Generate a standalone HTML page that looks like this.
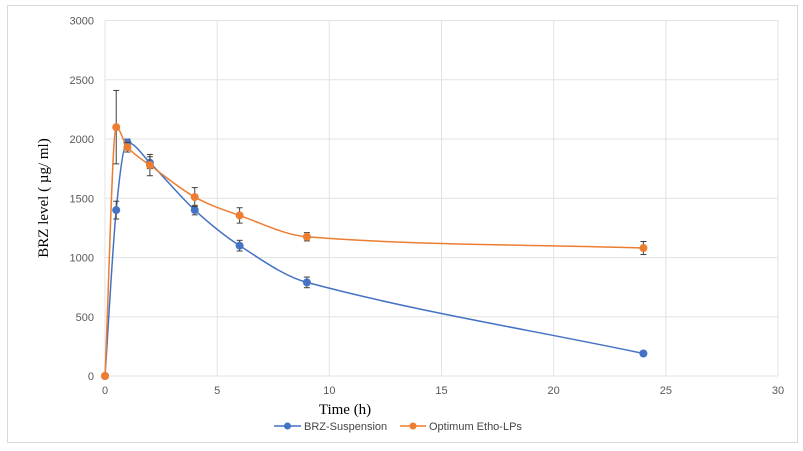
<!DOCTYPE html>
<html><head><meta charset="utf-8"><style>
html,body{margin:0;padding:0;background:#fff;width:803px;height:451px;overflow:hidden}
svg{display:block}
</style></head><body>
<svg id="chart" width="803" height="451" xmlns="http://www.w3.org/2000/svg">
<rect x="7.5" y="5.5" width="790" height="437" fill="#fff" stroke="#d9d9d9"/>
<g id="grid"></g><g id="ticks"></g><g id="series"></g>
<text x="48" y="198" transform="rotate(-90 48 198)" text-anchor="middle" font-family="Liberation Serif, serif" font-size="15" fill="#000">BRZ level ( µg/ ml)</text>
<text x="345" y="414" text-anchor="middle" font-family="Liberation Serif, serif" font-size="15" fill="#000">Time (h)</text>
<g font-family="Liberation Sans, sans-serif" font-size="11" fill="#444">
<g><line x1="274" y1="426" x2="301" y2="426" stroke="#4472c4" stroke-width="1.5"/><circle cx="287.5" cy="426" r="3.5" fill="#4472c4"/><text x="304" y="430">BRZ-Suspension</text></g>
<g><line x1="400" y1="426" x2="426" y2="426" stroke="#ed7d31" stroke-width="1.5"/><circle cx="413" cy="426" r="3.5" fill="#ed7d31"/><text x="429" y="430">Optimum Etho-LPs</text></g>
</g>
</svg>
<script>
const times=[0,0.5,1,2,4,6,9,24];
const brzValues=[0,1400,1970,1800,1400,1100,790,190];
const brzErrors=[0,75,30,50,40,45,45,20];
const ethoValues=[0,2100,1930,1780,1510,1355,1175,1080];
const ethoErrors=[0,310,40,90,80,65,35,55];
const xTicks=[0,5,10,15,20,25,30];
const yTicks=[0,500,1000,1500,2000,2500,3000];

const NS='http://www.w3.org/2000/svg';
const X0=105,X1=778,Y0=376,Y1=20.5;
const xs=v=>X0+(v/30)*(X1-X0);
const ys=v=>Y0-(v/3000)*(Y0-Y1);
function mk(tag,attrs,parent){const e=document.createElementNS(NS,tag);for(const k in attrs)e.setAttribute(k,attrs[k]);parent.appendChild(e);return e;}
const grid=document.getElementById('grid'),ticks=document.getElementById('ticks'),ser=document.getElementById('series');
yTicks.forEach(t=>{
 const l=mk('line',{x1:X0,x2:X1,y1:ys(t),y2:ys(t),stroke:'#e3e3e3','stroke-width':1},grid);
 
 
 const tx=mk('text',{x:X0-11,y:ys(t)+4,'text-anchor':'end','font-family':'Liberation Sans, sans-serif','font-size':11,fill:'#595959'},ticks);
 tx.textContent=t;
 
 
});
xTicks.forEach(t=>{
 const l=mk('line',{x1:xs(t),x2:xs(t),y1:Y0,y2:Y1,stroke:'#e3e3e3','stroke-width':1},grid);
 
 
 const tx=mk('text',{x:xs(t),y:Y0+18,'text-anchor':'middle','font-family':'Liberation Sans, sans-serif','font-size':11,fill:'#595959'},ticks);
 tx.textContent=t;
 
 
});
function path(vals){
 const p=times.map((t,i)=>[xs(t),ys(vals[i])]);
 const n=p.length;
 const m=p.map((q,i)=>{
  if(i===0||i===n-1){const a=p[Math.max(i-1,0)],b=p[Math.min(i+1,n-1)];return (b[1]-a[1])/(b[0]-a[0]);}
  const d0=(p[i][1]-p[i-1][1])/(p[i][0]-p[i-1][0]);
  const d1=(p[i+1][1]-p[i][1])/(p[i+1][0]-p[i][0]);
  if(d0*d1<=0) return 0;
  return (p[i+1][1]-p[i-1][1])/(p[i+1][0]-p[i-1][0]);
 });
 let d='M'+p[0][0]+','+p[0][1];
 for(let i=0;i<n-1;i++){
  const h=(p[i+1][0]-p[i][0])/3;
  d+=' C'+(p[i][0]+h)+','+(p[i][1]+m[i]*h)+' '+(p[i+1][0]-h)+','+(p[i+1][1]-m[i+1]*h)+' '+p[i+1][0]+','+p[i+1][1];
 }
 return d;
}
function drawSeries(vals,errs,color,name){
 const g=mk('g',{},ser);
 
 
 const pl=mk('path',{d:path(vals),fill:'none',stroke:color,'stroke-width':1.5},g);
 
 
 times.forEach((t,i)=>{
  const x=xs(t);
  if(errs[i]>0){
   const eg=mk('g',{stroke:'#404040','stroke-width':1},g);
   mk('line',{x1:x,x2:x,y1:ys(vals[i]-errs[i]),y2:ys(vals[i]+errs[i])},eg);
   mk('line',{x1:x-3,x2:x+3,y1:ys(vals[i]-errs[i]),y2:ys(vals[i]-errs[i])},eg);
   mk('line',{x1:x-3,x2:x+3,y1:ys(vals[i]+errs[i]),y2:ys(vals[i]+errs[i])},eg);
   
   
  }
  const c=mk('circle',{cx:x,cy:ys(vals[i]),r:4,fill:color},g);
  
  
 });
}
drawSeries(brzValues,brzErrors,'#4472c4','brz');
drawSeries(ethoValues,ethoErrors,'#ed7d31','etho');
</script>
</body></html>
